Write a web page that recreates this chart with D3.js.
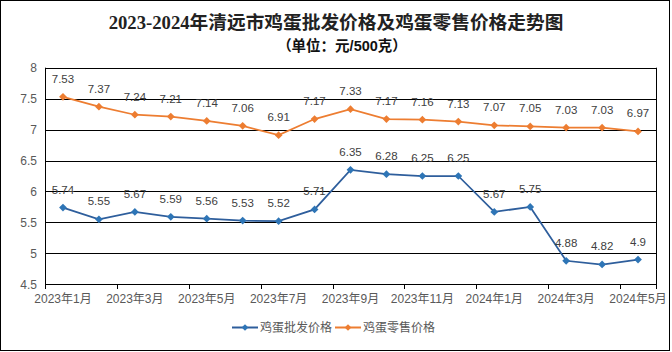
<!DOCTYPE html>
<html><head><meta charset="utf-8">
<script src="https://cdn.jsdelivr.net/npm/d3@7"></script>
<style>body{margin:0;background:#fff}svg{display:block}</style>
</head><body>
<svg id="c" width="672" height="352"></svg>
<script>
const months = ["2023年1月","2023年2月","2023年3月","2023年4月","2023年5月","2023年6月","2023年7月","2023年8月","2023年9月","2023年10月","2023年11月","2023年12月","2024年1月","2024年2月","2024年3月","2024年4月","2024年5月"];
const wholesale = [5.74,5.55,5.67,5.59,5.56,5.53,5.52,5.71,6.35,6.28,6.25,6.25,5.67,5.75,4.88,4.82,4.9];
const retail = [7.53,7.37,7.24,7.21,7.14,7.06,6.91,7.17,7.33,7.17,7.16,7.13,7.07,7.05,7.03,7.03,6.97];
const yTicks = [4.5,5,5.5,6,6.5,7,7.5,8];
const seriesNames = ["鸡蛋批发价格","鸡蛋零售价格"];
const colors = ["#2E5E9C","#ED7D31"];
const markerColors = ["#2E75B6","#ED7D31"];

const svg = d3.select("#c");
svg.append("rect").attr("x",0.5).attr("y",0.5).attr("width",669).attr("height",350)
  .attr("fill","#fff").attr("stroke","#000");

const L=45, R=656, T=67.7, B=284.3;
const x = d3.scaleBand().domain(months).range([L,R]);
const cx = d => x(d)+x.bandwidth()/2;
const y = d3.scaleLinear().domain([4.5,8]).range([B,T]);

// title
svg.append("text").attr("x",336).attr("y",29).attr("text-anchor","middle")
  .attr("font-family","'Liberation Serif','Noto Sans CJK SC'").attr("font-weight","bold")
  .attr("font-size",18.7).attr("fill","#222").text("2023-2024年清远市鸡蛋批发价格及鸡蛋零售价格走势图");
svg.append("text").attr("x",342).attr("y",50.5).attr("text-anchor","middle")
  .attr("font-family","'Liberation Sans','Noto Sans CJK SC'").attr("font-weight","bold")
  .attr("font-size",14.5).attr("fill","#111").text("（单位：元/500克）");

// grid
svg.append("g").selectAll("line").data(yTicks.filter(t=>t>4.5)).join("line")
  .attr("x1",L).attr("x2",R).attr("y1",d=>Math.round(y(d))+0.5).attr("y2",d=>Math.round(y(d))+0.5)
  .attr("stroke","#000").attr("stroke-width",1);
// box sides
svg.append("line").attr("x1",L+0.5).attr("x2",L+0.5).attr("y1",T).attr("y2",B).attr("stroke","#000");
svg.append("line").attr("x1",R+0.5).attr("x2",R+0.5).attr("y1",T).attr("y2",B).attr("stroke","#000");

// y axis labels
const yAxis = d3.axisLeft(y).tickValues(yTicks).tickSize(0).tickPadding(8).tickFormat(d3.format("~g"));
const gy = svg.append("g").attr("transform",`translate(${L},0)`).call(yAxis);
gy.select(".domain").remove();
gy.selectAll("text").attr("font-family","'Liberation Sans','Noto Sans CJK SC'").attr("font-size",12).attr("fill","#595959");

// x axis
const xAxis = d3.axisBottom(x).tickValues(months.filter((m,i)=>i%2===0)).tickSize(0).tickPadding(10);
const gx = svg.append("g").attr("transform",`translate(0,${Math.round(B)+0.5})`).call(xAxis);
gx.select(".domain").attr("stroke","#000").attr("d",`M${L},0H${R+1}`);
gx.selectAll("text").attr("font-family","'Liberation Sans','Noto Sans CJK SC'").attr("font-size",12).attr("fill","#595959");
const bounds = months.filter((m,i)=>i%2===0).map(m=>x(m)).concat([R]);
svg.append("g").selectAll("line").data(bounds).join("line")
  .attr("x1",d=>Math.round(d)+0.5).attr("x2",d=>Math.round(d)+0.5)
  .attr("y1",Math.round(B)).attr("y2",Math.round(B)+5).attr("stroke","#000");

[wholesale, retail].forEach((vals,si)=>{
  const line = d3.line().x((d,i)=>cx(months[i])).y(d=>y(d));
  svg.append("path").datum(vals).attr("d",line).attr("fill","none")
    .attr("stroke",colors[si]).attr("stroke-width",1.75);
  svg.append("g").selectAll("path").data(vals).join("path")
    .attr("d",d3.symbol().type(d3.symbolSquare).size(30))
    .attr("transform",(d,i)=>`translate(${cx(months[i])},${y(d)}) rotate(45)`)
    .attr("fill",markerColors[si]);
  svg.append("g").selectAll("text").data(vals).join("text")
    .attr("x",(d,i)=>cx(months[i])).attr("y",d=>y(d)-14)
    .attr("text-anchor","middle").attr("font-family","'Liberation Sans','Noto Sans CJK SC'")
    .attr("font-size",11.5).attr("fill","#404040").text(d=>d);
});

// legend
const lg = svg.append("g");
const items = [{x:232},{x:335}];
items.forEach((it,i)=>{
  lg.append("line").attr("x1",it.x).attr("x2",it.x+26).attr("y1",327.5).attr("y2",327.5)
    .attr("stroke",colors[i]).attr("stroke-width",2);
  lg.append("path").attr("d",d3.symbol().type(d3.symbolSquare).size(22)())
    .attr("transform",`translate(${it.x+13},327.5) rotate(45)`).attr("fill",markerColors[i]);
  lg.append("text").attr("x",it.x+28).attr("y",332).attr("font-family","'Noto Sans CJK SC'")
    .attr("font-size",12).attr("fill","#595959").text(seriesNames[i]);
});
</script>
</body></html>
